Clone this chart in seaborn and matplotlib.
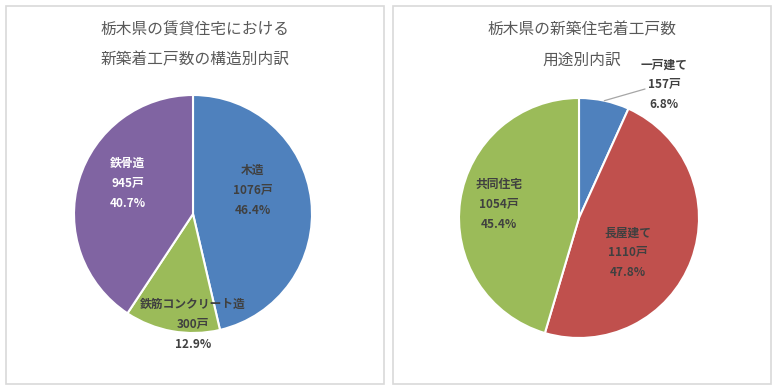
import matplotlib
matplotlib.use('Agg')
import matplotlib.pyplot as plt
import seaborn as sns
import numpy as np
from matplotlib.patches import Rectangle

sns.set_theme(style='white')
plt.rcParams['font.family'] = ['Noto Sans CJK JP', 'DejaVu Sans']

# data
struct_labels = ['木造', '鉄筋コンクリート造', '鉄骨造']
struct_counts = [1076, 300, 945]
struct_pcts = [46.4, 12.9, 40.7]

use_labels = ['一戸建て', '長屋建て', '共同住宅']
use_counts = [157, 1110, 1054]
use_pcts = [6.8, 47.8, 45.4]

blue, red, green, purple = '#4F81BD', '#C0504D', '#9BBB59', '#8064A2'

fig = plt.figure(figsize=(7.8, 3.9), dpi=100)
ax = fig.add_axes([0, 0, 1, 1])
ax.set_xlim(0, 780)
ax.set_ylim(0, 390)
ax.set_aspect('equal')
ax.axis('off')

# panel frames (pixel coords, y measured from top)
for x0, x1 in [(6, 384), (393, 771)]:
    ax.add_patch(Rectangle((x0, 390 - 384), x1 - x0, 378, fill=False,
                           edgecolor='#D9D9D9', linewidth=1.2))

title_kw = dict(ha='center', va='center', fontsize=11.3, color='#595959')
ax.text(195, 390 - 30, '栃木県の賃貸住宅における', **title_kw)
ax.text(195, 390 - 60, '新築着工戸数の構造別内訳', **title_kw)
ax.text(582, 390 - 30, '栃木県の新築住宅着工戸数', **title_kw)
ax.text(582, 390 - 60, '用途別内訳', **title_kw)


def draw_pie(cx, cy, r, counts, colors, labels, pcts, offsets, txtcolors):
    wedges, _ = ax.pie(counts, colors=colors, startangle=90, counterclock=False,
                       center=(cx, cy), radius=r,
                       wedgeprops=dict(edgecolor='white', linewidth=1.5))
    for lab, n, p, (ox, oy), tc in zip(labels, counts, pcts, offsets, txtcolors):
        tx, ty = cx + ox * r, cy + oy * r
        for k, s in enumerate([lab, f'{n}戸', f'{p}%']):
            ax.text(tx, ty + (1 - k) * 20, s, ha='center', va='center',
                    fontsize=8.5, fontweight='bold', color=tc)
    return wedges


draw_pie(193, 390 - 214, 119, struct_counts, [blue, green, purple],
         struct_labels, struct_pcts,
         [(0.50, 0.20), (0.0, -0.93), (-0.55, 0.26)],
         ['#404040', '#404040', 'white'])

w = draw_pie(579, 390 - 218, 120, use_counts, [blue, red, green],
             use_labels, use_pcts,
             [(0.71, 1.11), (0.41, -0.29), (-0.67, 0.11)],
             ['#404040', '#404040', '#404040'])

# leader line for small slice
th = np.deg2rad((w[0].theta1 + w[0].theta2) / 2)
ax.plot([579 + 120 * np.cos(th), 645], [390 - 218 + 120 * np.sin(th), 390 - 89],
        color='#A6A6A6', linewidth=0.9)
ax.set_xlim(0, 780)
ax.set_ylim(0, 390)

fig.savefig('out.png', dpi=100)
